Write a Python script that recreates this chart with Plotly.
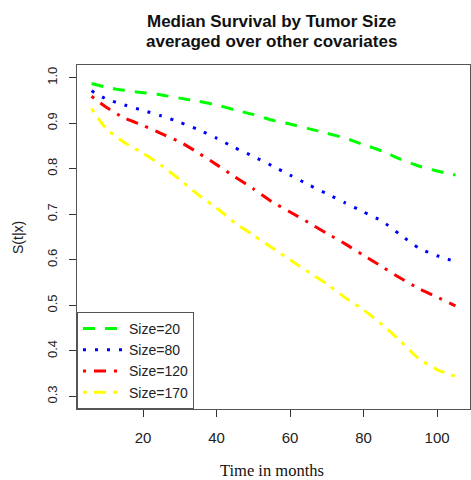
import plotly.graph_objects as go

months = [6, 10, 15, 20, 25, 30, 35, 40, 45, 50, 55, 60, 65, 70, 75, 80, 85, 90, 95, 100, 105]
surv_20 = [0.987, 0.979, 0.972, 0.967, 0.962, 0.955, 0.948, 0.940, 0.929, 0.919, 0.907,
           0.898, 0.888, 0.878, 0.867, 0.853, 0.839, 0.821, 0.806, 0.795, 0.786]
surv_80 = [0.971, 0.953, 0.940, 0.928, 0.916, 0.902, 0.886, 0.867, 0.846, 0.827, 0.807,
           0.786, 0.765, 0.745, 0.725, 0.705, 0.685, 0.655, 0.626, 0.609, 0.596]
surv_120 = [0.959, 0.935, 0.911, 0.895, 0.877, 0.859, 0.835, 0.809, 0.782, 0.756, 0.728,
            0.705, 0.682, 0.658, 0.635, 0.610, 0.585, 0.560, 0.537, 0.518, 0.499]
surv_170 = [0.932, 0.888, 0.857, 0.834, 0.807, 0.776, 0.743, 0.714, 0.681, 0.654, 0.627,
            0.600, 0.573, 0.547, 0.517, 0.490, 0.458, 0.422, 0.383, 0.359, 0.344]

series_names = ["Size=20", "Size=80", "Size=120", "Size=170"]
series_vals = [surv_20, surv_80, surv_120, surv_170]
colors = ["#00FF00", "#0000FF", "#FF0000", "#FFFF00"]
dashes = ["12px,10px", "3px,9px", "3px,8px,12px,8px", "4px,7px,12px,7px"]

x_ticks = [20, 40, 60, 80, 100]
y_ticks = [0.3, 0.4, 0.5, 0.6, 0.7, 0.8, 0.9, 1.0]
y_tick_text = ["0.3", "0.4", "0.5", "0.6", "0.7", "0.8", "0.9", "1.0"]

fig = go.Figure()
for name, vals, c, d in zip(series_names, series_vals, colors, dashes):
    fig.add_trace(go.Scatter(x=months, y=vals, mode="lines", name=name,
                             line=dict(color=c, width=3, dash=d, shape="spline", smoothing=0.6)))

sans = "Liberation Sans, Arial, sans-serif"
fig.update_layout(
    width=471, height=480,
    margin=dict(l=77, r=1, t=65, b=71),
    plot_bgcolor="white", paper_bgcolor="white",
    showlegend=True,
    legend=dict(x=0, y=0, xanchor="left", yanchor="bottom",
                bordercolor="#555", borderwidth=1, bgcolor="white",
                font=dict(family=sans, size=14, color="#222"),
                tracegroupgap=0, itemwidth=41),
    xaxis=dict(range=[2.04, 108.96], tickvals=x_ticks, ticks="outside", ticklen=7,
               tickcolor="#333", showline=True, linecolor="#555", linewidth=1, mirror=True,
               showgrid=False, zeroline=False, tickfont=dict(family=sans, size=15, color="#222"),
               ticklabelstandoff=8),
    yaxis=dict(range=[0.2725, 1.0277], tickvals=y_ticks, ticktext=y_tick_text,
               ticks="outside", ticklen=7, tickangle=-90,
               tickcolor="#333", showline=True, linecolor="#555", linewidth=1, mirror=True,
               showgrid=False, zeroline=False, tickfont=dict(family=sans, size=13, color="#222"),
               ticklabelstandoff=7),
    annotations=[
        dict(text="<b>Median Survival by Tumor Size</b>", xref="paper", yref="paper",
             x=0.496, y=1 + (65 - 21.5) / 344, xanchor="center", yanchor="middle",
             showarrow=False, font=dict(family=sans, size=17, color="#111")),
        dict(text="<b>averaged over other covariates</b>", xref="paper", yref="paper",
             x=0.496, y=1 + (65 - 41.7) / 344, xanchor="center", yanchor="middle",
             showarrow=False, font=dict(family=sans, size=17, color="#111")),
        dict(text="Time in months", xref="paper", yref="paper",
             x=0.496, y=(409 - 470) / 344, xanchor="center", yanchor="middle",
             showarrow=False, font=dict(family="Liberation Serif, Times New Roman, serif", size=16.5, color="#111")),
        dict(text="S(t|x)", xref="paper", yref="paper", textangle=-90,
             x=(18 - 77) / 393, y=(409 - 237) / 344, xanchor="center", yanchor="middle",
             showarrow=False, font=dict(family=sans, size=14, color="#222")),
    ],
)

fig.write_html("out.html")
